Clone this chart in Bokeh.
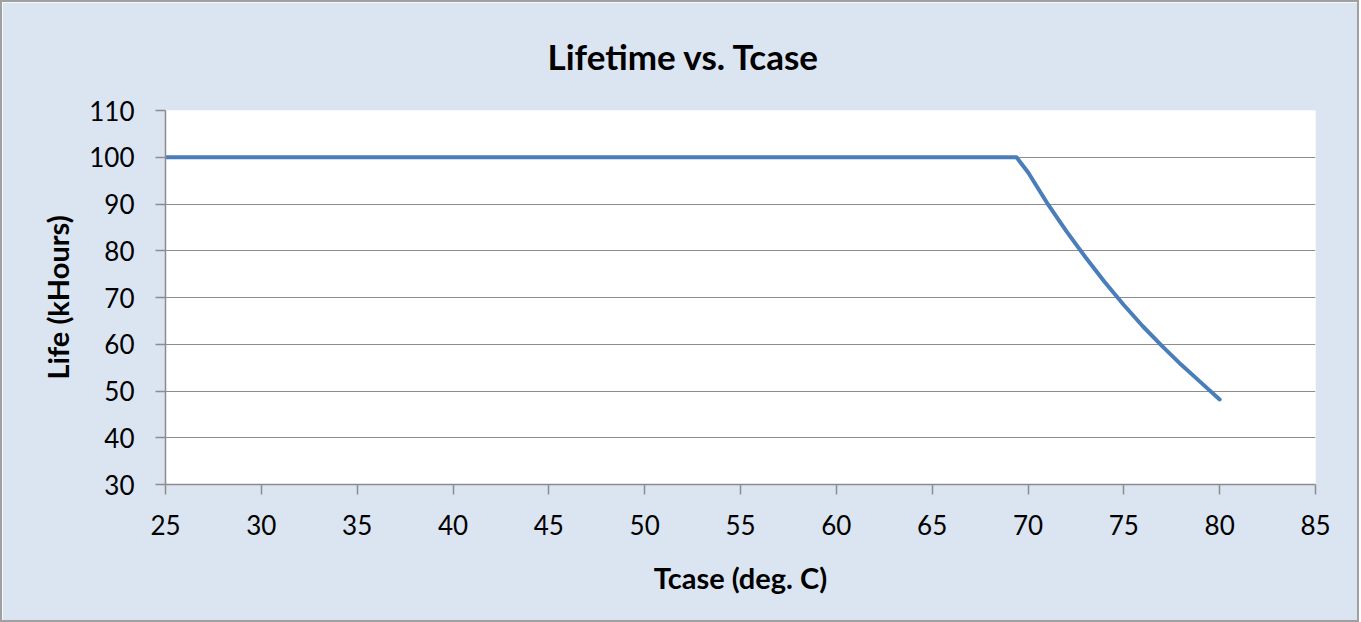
from bokeh.plotting import figure
from bokeh.models import Range1d, FixedTicker, Title
from bokeh.embed import file_html
from bokeh.resources import INLINE

# Data
tcase = [25, 63.5, 69.4, 70, 71, 72, 73, 74, 75, 76, 77, 78, 79, 80]
life = [100, 100, 100, 96.8, 90.2, 84.2, 78.6, 73.3, 68.4, 63.8, 59.6, 55.6, 51.9, 48.2]
x_ticks = [25, 30, 35, 40, 45, 50, 55, 60, 65, 70, 75, 80, 85]
y_ticks = [30, 40, 50, 60, 70, 80, 90, 100, 110]
title_text = "Lifetime vs. Tcase"

BG = "#dbe5f1"
FONT = "Lato"

p = figure(width=1355, height=616, output_backend="svg", toolbar_location=None,
           x_range=Range1d(25, 85), y_range=Range1d(30, 110),
           min_border_left=163, min_border_right=42, min_border_top=106, min_border_bottom=136)
p.frame_width = 1150
p.frame_height = 374
p.border_fill_color = BG
p.background_fill_color = "white"
p.outline_line_color = None
p.styles = {"border": "2px solid #a0a0a0", "box-sizing": "border-box"}

p.line(tcase, life, line_color="#4a7ebb", line_width=4, line_join="round", line_cap="round")

p.title = Title(text=title_text, align="left", offset=382, vertical_align="top",
                text_font=FONT, text_font_size="35px", text_font_style="bold",
                text_color="black", standoff=64)

for ax in (p.xaxis[0], p.yaxis[0]):
    ax.axis_line_color = "#8c8c8c"
    ax.axis_line_width = 1.5
    ax.major_tick_line_color = "#8c8c8c"
    ax.major_tick_line_width = 1.5
    ax.major_tick_out = 10
    ax.major_tick_in = 0
    ax.minor_tick_line_color = None
    ax.major_label_text_font = FONT
    ax.major_label_text_font_size = "26px"
    ax.major_label_text_color = "black"
    ax.axis_label_text_font = FONT
    ax.axis_label_text_font_size = "29px"
    ax.axis_label_text_font_style = "bold"
    ax.axis_label_text_color = "black"

p.xaxis.ticker = FixedTicker(ticks=x_ticks)
p.yaxis.ticker = FixedTicker(ticks=y_ticks)
p.xaxis.axis_label = "Tcase (deg. C)"
p.yaxis.axis_label = "Life (kHours)"
p.xaxis.major_label_standoff = 20
p.yaxis.major_label_standoff = 21
p.xaxis.axis_label_standoff = 22
p.yaxis.axis_label_standoff = 11

p.xgrid.grid_line_color = None
p.ygrid.grid_line_color = "#8c8c8c"
p.ygrid.grid_line_width = 1.2

open("out.html", "w").write(file_html(p, INLINE))
